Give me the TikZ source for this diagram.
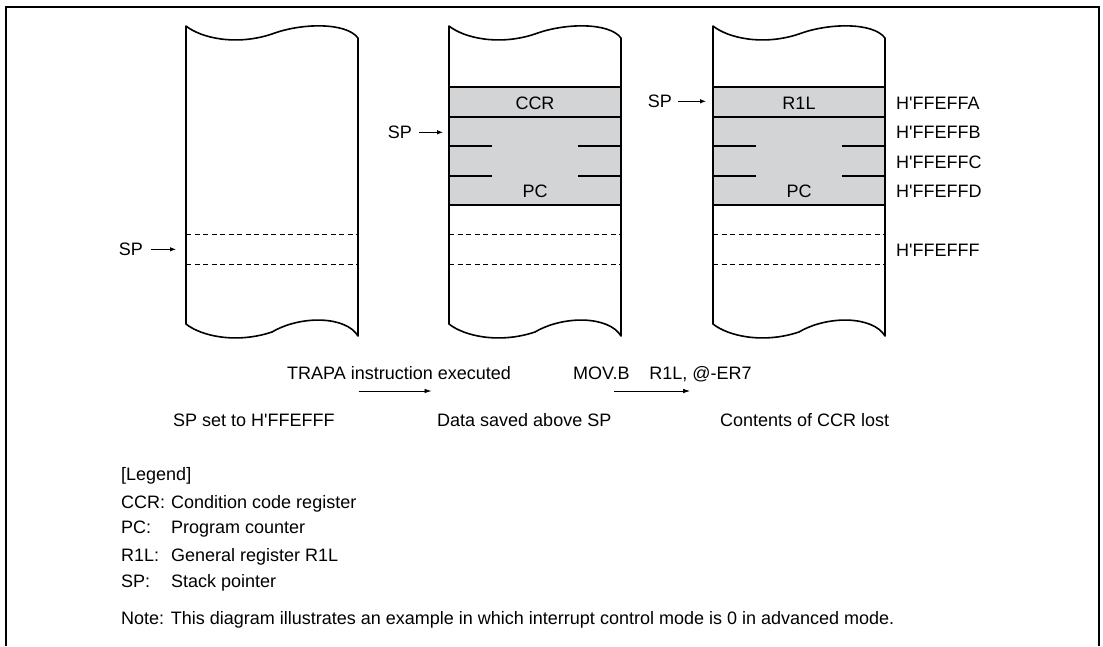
\documentclass[tikz,border=0pt]{standalone}
\usepackage{fontspec}
\setmainfont{Liberation Sans}
\usetikzlibrary{arrows.meta,calc}

\definecolor{cellgrey}{RGB}{211,212,214}
\newcommand{\addr}[1]{H\textquotesingle#1}

\begin{document}
\begin{tikzpicture}[x=1pt,y=-1pt,
  every node/.style={font=\fontsize{18}{21}\selectfont, inner sep=0pt},
  colline/.style={line width=1.6pt, line join=round},
  cutline/.style={line width=0.8pt, dash pattern=on 5pt off 3.5pt},
  sparrow/.style={line width=0.8pt, -{Latex[length=6pt,width=4.5pt]}},
  steparrow/.style={line width=0.8pt, -{Latex[length=7pt,width=4.5pt]}}]

  \useasboundingbox (0,0) rectangle (1103,646);

  % frame, open at the bottom
  \draw[line width=2pt] (6,646) -- (6,7) -- (1099,7) -- (1099,646);

  % width of a memory column
  \def\w{172}

  % saved data in columns 2 and 3
  \foreach \x in {449,713} {
    \fill[cellgrey] (\x,87) rectangle (\x+\w,205);
    \draw[colline] (\x,87) -- ++(\w,0);
    \draw[colline] (\x,117) -- ++(\w,0);
    \draw[colline] (\x,205) -- ++(\w,0);
    \foreach \y in {146,176} {
      \draw[colline] (\x,\y) -- ++(43,0);
      \draw[colline] (\x+129,\y) -- ++(43,0);
    }
  }

  % memory columns with torn ends
  \foreach \x in {186,449,713} {
    \draw[cutline] (\x,234) -- ++(\w,0);
    \draw[cutline] (\x,264) -- ++(\w,0);
    \draw[colline] (\x,26) .. controls (\x+15,38) and (\x+50,46) .. (\x+86,34)
      .. controls (\x+115,23) and (\x+160,22) .. (\x+\w,38) -- (\x+\w,336)
      .. controls (\x+160,316) and (\x+115,315) .. (\x+86,332)
      .. controls (\x+50,344) and (\x+15,336) .. (\x,324) -- cycle;
  }

  % cell contents
  \node[anchor=base] (ccr) at (535,109) {CCR};
  \node[anchor=base] (pcb) at (535,197) {PC};
  \node[anchor=base] (rl) at (799,109) {R1L};
  \node[anchor=base] (pcc) at (799,197) {PC};

  % stack pointers
  \node[anchor=base east] (spa) at (143,255.5) {SP};
  \node[anchor=base east] (spb) at (412,138.5) {SP};
  \node[anchor=base east] (spc) at (672,107.5) {SP};
  \coordinate (tipa) at (176,0);
  \coordinate (tipb) at (443,0);
  \coordinate (tipc) at (706,0);
  \draw[sparrow] ([xshift=8pt]spa.east) -- (tipa |- spa.east);
  \draw[sparrow] ([xshift=7pt]spb.east) -- (tipb |- spb.east);
  \draw[sparrow] ([xshift=6pt]spc.east) -- (tipc |- spc.east);

  % addresses
  \node[anchor=base west] (fa) at (896,109.5) {\addr{FFEFFA}};
  \node[anchor=base west] (fb) at (896,138.5) {\addr{FFEFFB}};
  \node[anchor=base west] (fc) at (896,168.5) {\addr{FFEFFC}};
  \node[anchor=base west] (fd) at (896,197.5) {\addr{FFEFFD}};
  \node[anchor=base west] (ff) at (896,256.5) {\addr{FFEFFF}};

  % steps
  \node[anchor=base west] (trapa) at (287,379.5) {TRAPA instruction executed};
  \node[anchor=base west] (movb) at (573,379.5) {MOV.B\hspace{1.1em}R1L, @-ER7};
  \path ($(trapa.west)!0.32!(trapa.east)$) coordinate (ta);
  \path ($(trapa.west)!0.645!(trapa.east)$) coordinate (tb);
  \path ($(movb.west)!0.23!(movb.east)$) coordinate (ma);
  \path ($(movb.west)!0.655!(movb.east)$) coordinate (mb);
  \draw[steparrow] (ta |- 0,391) -- (tb |- 0,391);
  \draw[steparrow] (ma |- 0,391) -- (mb |- 0,391);

  \node[anchor=base west] (capa) at (173,426) {SP set to \addr{FFEFFF}};
  \node[anchor=base west] (capb) at (437,426) {Data saved above SP};
  \node[anchor=base west] (capc) at (720,426) {Contents of CCR lost};

  % legend
  \node[anchor=base west] (leg) at (121,480.5) {[Legend]};
  \node[anchor=base west] (kccr) at (121,508.5) {CCR:};
  \node[anchor=base west] (kpc) at (121,533.5) {PC:};
  \node[anchor=base west] (krl) at (121,561.5) {R1L:};
  \node[anchor=base west] (ksp) at (121,587.5) {SP:};
  \node[anchor=base west] (dccr) at (171,508.5) {Condition code register};
  \node[anchor=base west] (dpc) at (171,533.5) {Program counter};
  \node[anchor=base west] (drl) at (171,561.5) {General register R1L};
  \node[anchor=base west] (dsp) at (171,587.5) {Stack pointer};
  \node[anchor=base west] (note) at (121,624.5)
    {Note: This diagram illustrates an example in which interrupt control mode is 0 in advanced mode.};

\end{tikzpicture}
\end{document}
